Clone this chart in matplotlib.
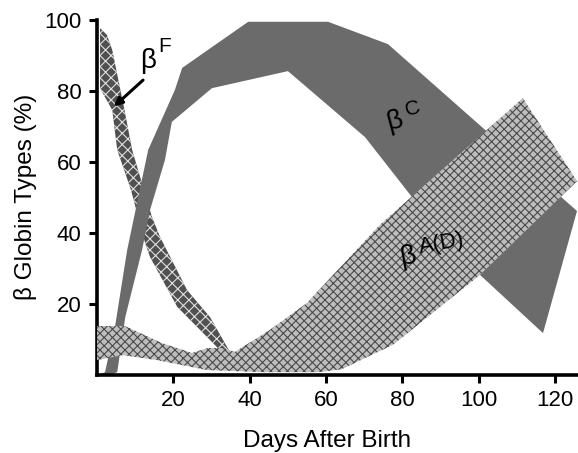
import numpy as np
import matplotlib
matplotlib.use("Agg")
import matplotlib.pyplot as plt

plt.rcParams['font.family'] = ['Liberation Sans', 'DejaVu Sans']
plt.rcParams['hatch.linewidth'] = 0.8

# band outlines: (days, percent)
# beta C - upper/outer edge, then lower/inner edge
bc_top_x = [0.5, 2.1, 4.7, 7.9, 13.4, 20.4, 22.3, 39.6, 60.5, 76.2, 125.7]
bc_top_y = [0.0, 0.8, 13.5, 35.2, 63.4, 80.3, 86.5, 99.5, 99.5, 93.2, 46.2]
bc_bot_x = [3.4, 5.3, 7.4, 11.8, 13.9, 17.8, 19.6, 30.1, 50.0, 70.2, 82.5, 99.8, 116.8]
bc_bot_y = [0.0, 0.8, 16.3, 35.2, 46.5, 60.6, 71.3, 80.8, 85.6, 67.0, 50.1, 28.7, 11.8]

# beta F
bf_top_x = [0.8, 2.6, 4.0, 7.1, 9.2, 14.4, 16.5, 23.6, 29.6, 34.8]
bf_top_y = [97.7, 95.8, 91.5, 75.2, 63.4, 44.5, 38.9, 23.9, 16.3, 6.5]
bf_bot_x = [0.8, 4.0, 5.3, 8.9, 12.6, 13.9, 21.0, 27.0, 32.2]
bf_bot_y = [80.8, 74.6, 63.4, 52.1, 37.2, 33.2, 19.2, 12.7, 7.0]

# beta A(D)
ba_top_x = [0, 7.3, 17.0, 24.9, 29.0, 33.0, 36.1, 45.0, 55.0, 74.1, 111.5, 125.7]
ba_top_y = [13.8, 13.8, 9.0, 6.2, 7.6, 7.6, 6.5, 12.5, 20.3, 42.3, 78.0, 54.6]
ba_bot_x = [0, 6.8, 15.7, 28.8, 44.0, 58.0, 64.0, 77.5, 100.3, 125.7]
ba_bot_y = [4.2, 5.6, 4.2, 1.4, 0.8, 0.8, 1.6, 8.5, 28.2, 54.6]

x_ticks = [20, 40, 60, 80, 100, 120]
y_ticks = [20, 40, 60, 80, 100]


def band(top_x, top_y, bot_x, bot_y):
    xs = list(top_x) + list(bot_x)[::-1]
    ys = list(top_y) + list(bot_y)[::-1]
    return xs, ys


fig = plt.figure(figsize=(5.78, 4.53), dpi=100)
ax = fig.add_axes([97 / 578, 1 - 375 / 453, 480 / 578, 355 / 453])

xs, ys = band(bf_top_x, bf_top_y, bf_bot_x, bf_bot_y)
ax.fill(xs, ys, facecolor='#505050', edgecolor='#e0e0e0', hatch='xxx', linewidth=0, zorder=1)

xs, ys = band(bc_top_x, bc_top_y, bc_bot_x, bc_bot_y)
ax.fill(xs, ys, facecolor='#6b6b6b', edgecolor='none', linewidth=0, zorder=2)

xs, ys = band(ba_top_x, ba_top_y, ba_bot_x, ba_bot_y)
ax.fill(xs, ys, facecolor='#bdbdbd', edgecolor='#4a4a4a', hatch='xxxx', linewidth=0, zorder=3)

# labels on the bands
ax.text(13.5, 88.5, 'β', fontsize=20, ha='center', va='center', zorder=5)
ax.text(17.8, 92.5, 'F', fontsize=15, ha='center', va='center', zorder=5)
ax.annotate('', xy=(3.9, 75.1), xytext=(12.6, 83.6),
            arrowprops=dict(arrowstyle='-|>', color='black', lw=2.2, mutation_scale=12),
            zorder=5)

ax.text(78.0, 71.5, 'β', fontsize=20, ha='center', va='center', rotation=15, zorder=5)
ax.text(82.6, 75.0, 'C', fontsize=15, ha='center', va='center', rotation=15, zorder=5)

ax.text(81.4, 33.2, 'β', fontsize=20, ha='center', va='center', rotation=10, zorder=5)
ax.text(90.4, 37.0, 'A(D)', fontsize=16, ha='center', va='center', rotation=10, zorder=5)

ax.set_xlim(0, 125.7)
ax.set_ylim(0, 100)
ax.set_xticks(x_ticks)
ax.set_yticks(y_ticks)
ax.tick_params(axis='both', direction='out', length=6, width=2.2, labelsize=16, pad=5)

for side in ['top', 'right']:
    ax.spines[side].set_visible(False)
for side in ['left', 'bottom']:
    ax.spines[side].set_linewidth(2.6)

ax.set_xlabel('Days After Birth', fontsize=17.5)
ax.xaxis.set_label_coords(0.479, -0.155)
ax.set_ylabel('β Globin Types (%)', fontsize=17.5)
ax.yaxis.set_label_coords(-0.125, 0.503)

fig.savefig('out.png', dpi=100)
